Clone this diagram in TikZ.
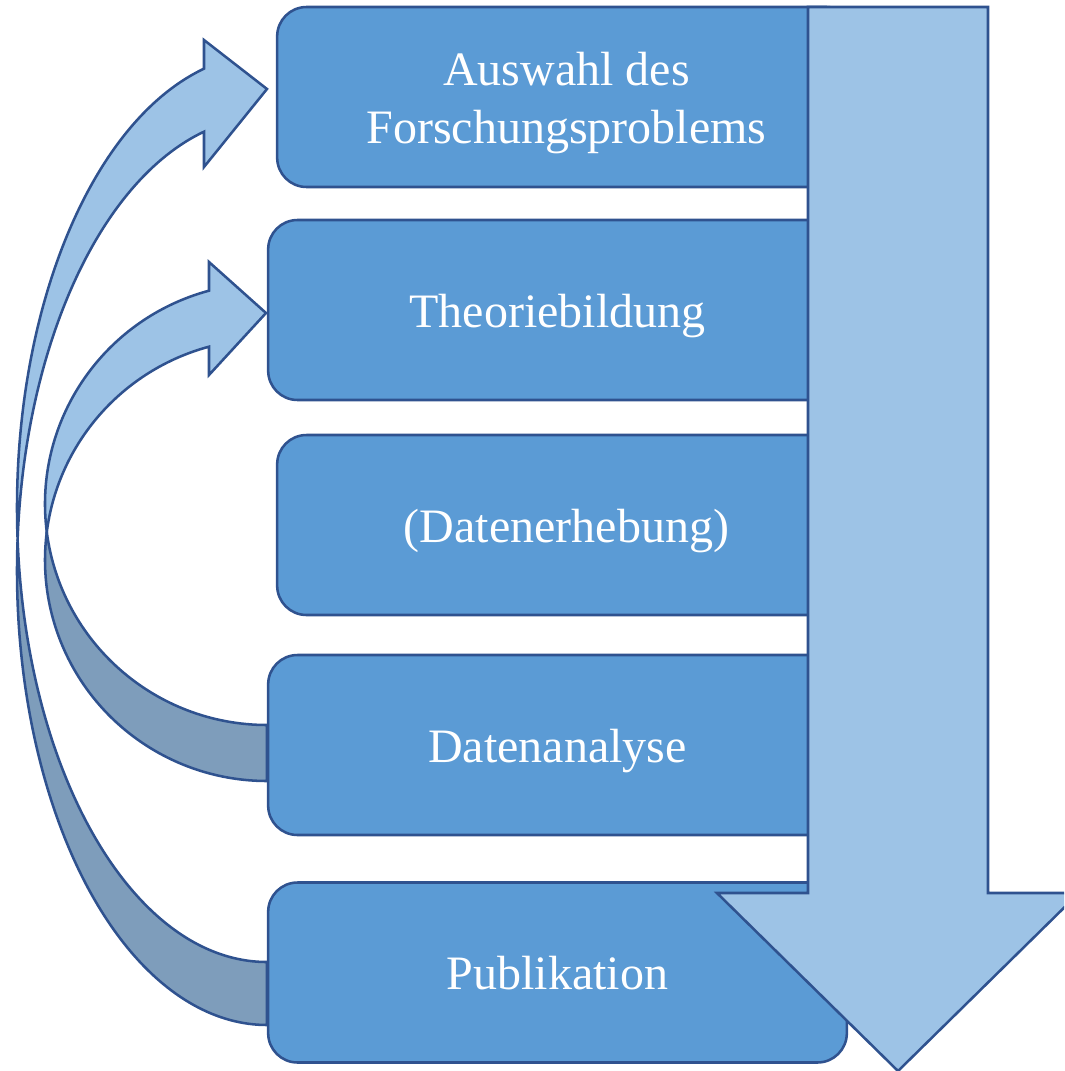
\documentclass[tikz,border=0pt]{standalone}
\usepackage{fontspec}
\setmainfont{Liberation Serif}
\definecolor{boxblue}{HTML}{5B9BD5}
\definecolor{lightband}{HTML}{9DC3E6}
\definecolor{darkband}{HTML}{7E9DBB}
\definecolor{edgeblue}{HTML}{2F528F}
\begin{document}
\begin{tikzpicture}[x=.75pt,y=-.75pt,
  stage/.style={draw=edgeblue,line width=1.9pt,fill=boxblue,rounded corners=22pt,
    minimum width=434pt,minimum height=135pt,inner sep=0pt,text=white,align=center,
    text height=25.5pt,text depth=0pt,font=\fontsize{36}{43.5}\selectfont},
  band/.style={draw=edgeblue,line width=1.9pt}]
\clip(0,0)rectangle(1064,1071);
% outer curved arrow: Publikation -> Auswahl
\begin{scope}
\def\cx{267}\def\cy{508}\def\rx{250}\def\ry{454}\def\dy{63}\def\hx{204}
\pgfmathsetmacro\tin{180-asin(\dy/2/\ry)}
\pgfmathsetmacro\tout{180+asin(\dy/2/\ry)}
\pgfmathsetmacro\thead{180+acos((\cx-\hx)/\rx)}
\pgfmathsetmacro\yb{\cy+\dy+\ry*sin(\thead)}
\draw[band,fill=darkband](\cx,\cy+\ry)arc[start angle=90,end angle=\tin,x radius=\rx,y radius=\ry]
  arc[start angle=\tout,end angle=90,x radius=\rx,y radius=\ry]--cycle;
\draw[band,fill=lightband]({\cx+\rx*cos(\tin)},{\cy+\ry*sin(\tin)})arc[start angle=\tin,end angle=\thead,x radius=\rx,y radius=\ry]
  --(\hx,40)--(267,89)--(\hx,167)--(\hx,\yb)arc[start angle=\thead,end angle=\tout,x radius=\rx,y radius=\ry]--cycle;
\end{scope}
% inner curved arrow: Datenanalyse -> Theoriebildung
\begin{scope}
\def\cx{267}\def\cy{504}\def\rx{222}\def\ry{221}\def\dy{56}\def\hx{209}
\pgfmathsetmacro\tin{180-asin(\dy/2/\ry)}
\pgfmathsetmacro\tout{180+asin(\dy/2/\ry)}
\pgfmathsetmacro\thead{180+acos((\cx-\hx)/\rx)}
\pgfmathsetmacro\yb{\cy+\dy+\ry*sin(\thead)}
\draw[band,fill=darkband](\cx,\cy+\ry)arc[start angle=90,end angle=\tin,x radius=\rx,y radius=\ry]
  arc[start angle=\tout,end angle=90,x radius=\rx,y radius=\ry]--cycle;
\draw[band,fill=lightband]({\cx+\rx*cos(\tin)},{\cy+\ry*sin(\tin)})arc[start angle=\tin,end angle=\thead,x radius=\rx,y radius=\ry]
  --(\hx,262)--(266,313)--(\hx,375)--(\hx,\yb)arc[start angle=\thead,end angle=\tout,x radius=\rx,y radius=\ry]--cycle;
\end{scope}
% stages
\node[stage,text height=69pt,text depth=0pt](auswahl)at(566.5,97){Auswahl des\\Forschungsproblems};
\node[stage](theorie)at(557.5,310){Theoriebildung};
\node[stage](erhebung)at(566.5,525){(Datenerhebung)};
\node[stage](analyse)at(557.5,745){Datenanalyse};
\node[stage](publikation)at(557.5,972.5){Publikation};
% big arrow
\draw[band,fill=lightband](808,7)--(988,7)--(988,893)--(1079,893)--(898,1071)--(717,893)--(808,893)--cycle;
\end{tikzpicture}
\end{document}
